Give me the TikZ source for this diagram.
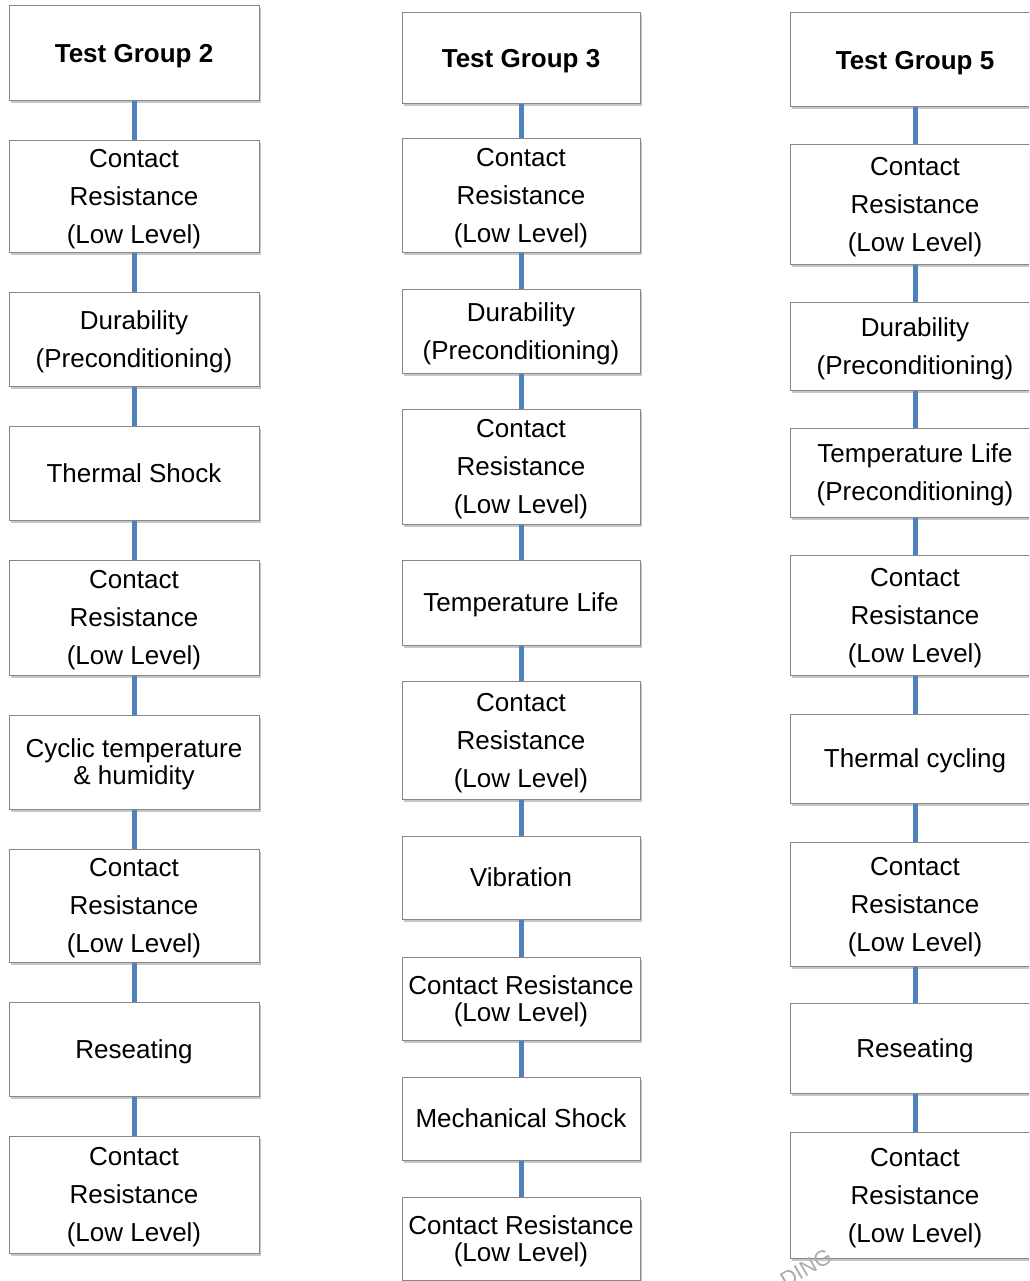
\documentclass[tikz,border=0pt]{standalone}
\usepackage{fontspec}
\setmainfont{Liberation Sans}
\usetikzlibrary{shadows}
\definecolor{boxline}{RGB}{135,135,135}
\definecolor{connblue}{RGB}{79,129,189}
\newcommand\bs{\rule{0pt}{24.1pt}}
\newcommand\be{\rule[-5.5pt]{0pt}{5.5pt}}
\tikzset{
  fbox/.style={draw=boxline, fill=white, line width=1pt, inner sep=0pt, align=center,
    font=\fontsize{26}{38}\selectfont,
    drop shadow={shadow xshift=1.5pt, shadow yshift=-2.5pt, fill=black, opacity=0.22}},
  tight/.style={font=\fontsize{26}{27}\selectfont},
  colA/.style={fbox, minimum width=250pt},
  colB/.style={fbox, minimum width=238pt},
  colC/.style={fbox, minimum width=250pt},
  conn/.style={draw=connblue, line width=5pt}
}
\begin{document}
\begin{tikzpicture}[x=1pt,y=-1pt]
\useasboundingbox (0,0) rectangle (1029,1281);
\clip (0,0) rectangle (1029,1281);
\fill[white] (0,0) rectangle (1029,1281);

% Column A
\node[colA, minimum height=95pt]  (a1) at (134,53.5)  {\bs\textbf{Test Group 2}\be};
\node[colA, minimum height=111pt] (a2) at (134,196.5) {\bs Contact\\Resistance\\(Low Level)\be};
\node[colA, minimum height=94pt]  (a3) at (134,339)   {\bs Durability\\(Preconditioning)\be};
\node[colA, minimum height=94pt]  (a4) at (134,473)   {\bs Thermal Shock\be};
\node[colA, minimum height=115pt] (a5) at (134,617.5) {\bs Contact\\Resistance\\(Low Level)\be};
\node[colA, tight, minimum height=94pt] (a6) at (134,762) {\bs Cyclic temperature\\\& humidity\be};
\node[colA, minimum height=113pt] (a7) at (134,905.5) {\bs Contact\\Resistance\\(Low Level)\be};
\node[colA, minimum height=94pt]  (a8) at (134,1049)  {\bs Reseating\be};
\node[colA, minimum height=117pt] (a9) at (134,1194.5){\bs Contact\\Resistance\\(Low Level)\be};

% Column B
\node[colB, minimum height=91pt]  (b1) at (521,58.5)  {\bs\textbf{Test Group 3}\be};
\node[colB, minimum height=113pt] (b2) at (521,195.5) {\bs Contact\\Resistance\\(Low Level)\be};
\node[colB, minimum height=84pt]  (b3) at (521,331)   {\bs Durability\\(Preconditioning)\be};
\node[colB, minimum height=115pt] (b4) at (521,466.5) {\bs Contact\\Resistance\\(Low Level)\be};
\node[colB, minimum height=85pt]  (b5) at (521,602.5) {\bs Temperature Life\be};
\node[colB, minimum height=118pt] (b6) at (521,740)   {\bs Contact\\Resistance\\(Low Level)\be};
\node[colB, minimum height=83pt]  (b7) at (521,877.5) {\bs Vibration\be};
\node[colB, tight, minimum height=83pt] (b8) at (521,998.5) {\bs Contact Resistance\\(Low Level)\be};
\node[colB, minimum height=83pt]  (b9) at (521,1118.5){\bs Mechanical Shock\be};
\node[colB, tight, minimum height=83pt] (b10) at (521,1238.5) {\bs Contact Resistance\\(Low Level)\be};

% Column C
\node[colC, minimum height=94pt]  (c1) at (915,60)    {\bs\textbf{Test Group 5}\be};
\node[colC, minimum height=119pt] (c2) at (915,204.5) {\bs Contact\\Resistance\\(Low Level)\be};
\node[colC, minimum height=88pt]  (c3) at (915,346)   {\bs Durability\\(Preconditioning)\be};
\node[colC, minimum height=89pt]  (c4) at (915,472.5) {\bs Temperature Life\\(Preconditioning)\be};
\node[colC, minimum height=120pt] (c5) at (915,615)   {\bs Contact\\Resistance\\(Low Level)\be};
\node[colC, minimum height=89pt]  (c6) at (915,758.5) {\bs Thermal cycling\be};
\node[colC, minimum height=124pt] (c7) at (915,904)   {\bs Contact\\Resistance\\(Low Level)\be};
\node[colC, minimum height=90pt]  (c8) at (915,1048)  {\bs Reseating\be};
\node[colC, minimum height=126pt] (c9) at (915,1195)  {\bs Contact\\Resistance\\(Low Level)\be};

% Connectors
\foreach \u/\v in {a1/a2,a2/a3,a3/a4,a4/a5,a5/a6,a6/a7,a7/a8,a8/a9,
                   b1/b2,b2/b3,b3/b4,b4/b5,b5/b6,b6/b7,b7/b8,b8/b9,b9/b10,
                   c1/c2,c2/c3,c3/c4,c4/c5,c5/c6,c6/c7,c7/c8,c8/c9}
  \draw[conn] (\u.south) -- (\v.north);

% Watermark fragment
\node[rotate=30, text=gray!65, font=\fontsize{22}{22}\selectfont, inner sep=0pt] (wm) at (806,1268) {DING};
\end{tikzpicture}
\end{document}
